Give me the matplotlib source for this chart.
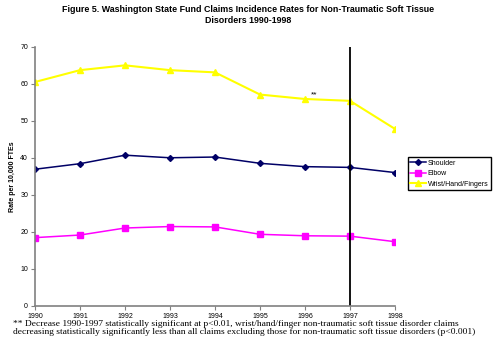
import matplotlib
matplotlib.use('Agg')
import matplotlib.pyplot as plt

years = [1990, 1991, 1992, 1993, 1994, 1995, 1996, 1997, 1998]
shoulder = [36.9, 38.4, 40.7, 40.0, 40.2, 38.5, 37.6, 37.4, 36.0]
elbow = [18.4, 19.1, 21.0, 21.4, 21.3, 19.3, 18.9, 18.8, 17.3]
wrist = [60.5, 63.7, 65.0, 63.7, 63.1, 57.1, 55.9, 55.4, 47.8]

title = ('Figure 5. Washington State Fund Claims Incidence Rates for Non-Traumatic Soft Tissue\n'
         'Disorders 1990-1998')
footnote = ('** Decrease 1990-1997 statistically significant at p<0.01, wrist/hand/finger non-traumatic soft tissue disorder claims\n'
            'decreasing statistically significantly less than all claims excluding those for non-traumatic soft tissue disorders (p<0.001)')

plt.rcParams['font.family'] = ['Liberation Sans', 'DejaVu Sans']

fig = plt.figure(figsize=(5, 3.55), dpi=100)
ax = fig.add_axes([0.07, 0.139, 0.72, 0.729])

ax.plot(years, shoulder, color='#000066', marker='D', markersize=3, linewidth=1.1, label='Shoulder')
ax.plot(years, elbow, color='#ff00ff', marker='s', markersize=3.8, linewidth=1.1, label='Elbow')
ax.plot(years, wrist, color='#ffff00', marker='^', markersize=3.8, linewidth=1.5, label='Wrist/Hand/Fingers')
ax.axvline(1997, color='black', linewidth=1.3)
ax.text(1996.2, 56.0, '**', fontsize=6, ha='center', va='bottom')

ax.set_xlim(1990, 1998)
ax.set_ylim(0, 70)
ax.set_xticks(years)
ax.set_yticks(range(0, 71, 10))
ax.tick_params(labelsize=5, length=3, direction='out', color='#808080', pad=2)
for s in ['top', 'right']:
    ax.spines[s].set_visible(False)
for s in ['left', 'bottom']:
    ax.spines[s].set_color('#808080')
    ax.spines[s].set_linewidth(1.2)
ax.set_ylabel('Rate per 10,000 FTEs', fontsize=5, fontweight='bold', labelpad=3)

ax.legend(loc='center left', bbox_to_anchor=(1.035, 0.51), fontsize=5, frameon=True,
          fancybox=False, edgecolor='black', framealpha=1, handlelength=2.2,
          borderpad=0.4, labelspacing=0.5, handletextpad=0.3, borderaxespad=0)

fig.text(0.496, 0.985, title, ha='center', va='top', fontsize=6.4, fontweight='bold', linespacing=1.2)
fig.text(0.026, 0.10, footnote, ha='left', va='top', fontsize=6.8,
         family=['Liberation Serif', 'DejaVu Serif'], linespacing=1.15)

fig.savefig('out.png', dpi=100)
